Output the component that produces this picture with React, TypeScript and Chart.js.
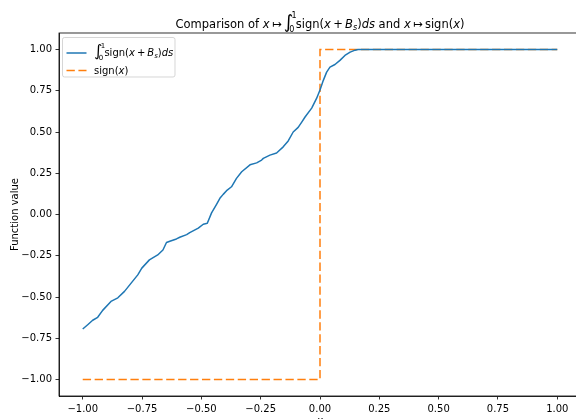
import React, { useEffect, useRef } from 'react';
import { Chart, registerables } from 'chart.js';

Chart.register(...registerables);

// ---- data ----
const curveX = [
  -1.0, -0.979, -0.958, -0.937, -0.916, -0.881, -0.852, -0.824, -0.796, -0.768,
  -0.751, -0.719, -0.684, -0.662, -0.647, -0.633, -0.605, -0.591, -0.562, -0.549,
  -0.513, -0.492, -0.475, -0.457, -0.436, -0.422, -0.408, -0.391, -0.373, -0.352,
  -0.33, -0.295, -0.267, -0.246, -0.239, -0.211, -0.183, -0.155, -0.134, -0.113,
  -0.092, -0.077, -0.063, -0.035, -0.014, 0.0, 0.014, 0.028, 0.042, 0.063,
  0.084, 0.105, 0.127, 0.148, 0.16, 1.0,
];
const curveY = [
  -0.694, -0.668, -0.641, -0.623, -0.581, -0.527, -0.505, -0.466, -0.416, -0.366,
  -0.325, -0.275, -0.245, -0.215, -0.17, -0.162, -0.148, -0.138, -0.122, -0.11,
  -0.083, -0.059, -0.053, 0.01, 0.062, 0.098, 0.122, 0.148, 0.168, 0.219,
  0.259, 0.301, 0.313, 0.33, 0.34, 0.36, 0.373, 0.41, 0.446, 0.5,
  0.528, 0.56, 0.591, 0.645, 0.705, 0.755, 0.813, 0.863, 0.893, 0.909,
  0.934, 0.964, 0.984, 0.996, 1.0, 1.0,
];
const signX = [-1, 0, 0, 1];
const signY = [-1, -1, 1, 1];

const seriesLabels = ['∫₀¹sign(x + Bₛ)ds', 'sign(x)'];
const titleText = 'Comparison of x ↦ ∫₀¹sign(x + Bₛ)ds and x ↦ sign(x)';
const yLabel = 'Function value';
const xLabel = 'x';
const tickStep = 0.25;
const axisMin = -1.1;
const axisMax = 1.1;

const BLUE = '#1f77b4';
const ORANGE = '#ff7f0e';
const FONT = '"DejaVu Sans", sans-serif';
const TS = '\u2009'; // thin space (math operator spacing)

type Seg = { t?: string; it?: boolean; sc?: number; dy?: number; sup?: string; sub?: string; adv?: number };

const integralSegs: Seg[] = [
  { t: '∫', sc: 1.6, adv: 0.72 },
  { sup: '1', sub: '0', adv: 0.32 },
  { t: 'sign(' },
  { t: 'x', it: true },
  { t: TS + '+' + TS },
  { t: 'B', it: true },
  { t: 's', it: true, sc: 0.7, dy: 0.2 },
  { t: ')' },
  { t: 'ds', it: true },
];

const titleSegs: Seg[] = [
  { t: 'Comparison of ' },
  { t: 'x', it: true },
  { t: TS + '↦' + TS },
  ...integralSegs,
  { t: ' and ' },
  { t: 'x', it: true },
  { t: TS + '↦' + TS + 'sign(' },
  { t: 'x', it: true },
  { t: ')' },
];

const legendSegs1: Seg[] = integralSegs;
const legendSegs2: Seg[] = [{ t: 'sign(' }, { t: 'x', it: true }, { t: ')' }];

function fnt(size: number, it: boolean) {
  return `${it ? 'italic ' : ''}${size}px ${FONT}`;
}
function segW(ctx: CanvasRenderingContext2D, s: Seg, base: number) {
  if (s.adv !== undefined) return s.adv * base;
  if (s.sup !== undefined) {
    ctx.font = fnt(base * 0.7, false);
    return Math.max(ctx.measureText(s.sup).width, ctx.measureText(s.sub || '').width);
  }
  ctx.font = fnt(base * (s.sc || 1), !!s.it);
  return ctx.measureText(s.t || '').width;
}
function drawSegs(ctx: CanvasRenderingContext2D, segs: Seg[], x: number, y: number, base: number, center: boolean) {
  const total = segs.reduce((a, s) => a + segW(ctx, s, base), 0);
  let cx = center ? x - total / 2 : x;
  ctx.textBaseline = 'alphabetic';
  ctx.textAlign = 'left';
  ctx.fillStyle = '#000';
  for (const s of segs) {
    const w = segW(ctx, s, base);
    if (s.sup !== undefined) {
      ctx.font = fnt(base * 0.7, false);
      ctx.fillText(s.sup, cx - base * 0.05, y - base * 0.8);
      ctx.fillText(s.sub || '', cx - base * 0.25, y + base * 0.38);
    } else {
      ctx.font = fnt(base * (s.sc || 1), !!s.it);
      ctx.fillText(s.t || '', cx, y + (s.dy || 0) * base);
    }
    cx += w;
  }
}

function fmtTick(v: number) {
  if (Math.abs(v) < 1e-9) return '0.00';
  return (v < 0 ? '\u2212' : '') + Math.abs(v).toFixed(2);
}

const decorPlugin = {
  id: 'decor',
  afterDatasetsDraw(chart: any) {
    const { ctx, chartArea } = chart;
    ctx.save();
    // spines
    ctx.strokeStyle = '#000';
    ctx.lineWidth = 0.8;
    ctx.strokeRect(chartArea.left, chartArea.top, chartArea.right - chartArea.left, chartArea.bottom - chartArea.top);
    // title
    drawSegs(ctx, titleSegs, (chartArea.left + chartArea.right) / 2, 27.5, 11.5, true);
    // legend
    const lx = 62.5, ly = 37.5, lw = 112.5, lh = 39.5, r = 2;
    ctx.beginPath();
    ctx.moveTo(lx + r, ly);
    ctx.arcTo(lx + lw, ly, lx + lw, ly + lh, r);
    ctx.arcTo(lx + lw, ly + lh, lx, ly + lh, r);
    ctx.arcTo(lx, ly + lh, lx, ly, r);
    ctx.arcTo(lx, ly, lx + lw, ly, r);
    ctx.closePath();
    ctx.fillStyle = 'rgba(255,255,255,0.8)';
    ctx.fill();
    ctx.strokeStyle = 'rgba(204,204,204,0.8)';
    ctx.lineWidth = 1;
    ctx.stroke();
    ctx.lineWidth = 1.5;
    ctx.strokeStyle = BLUE;
    ctx.beginPath();
    ctx.moveTo(66.5, 53);
    ctx.lineTo(86.5, 53);
    ctx.stroke();
    ctx.strokeStyle = ORANGE;
    ctx.setLineDash([8.325, 3.6]);
    ctx.beginPath();
    ctx.moveTo(66.5, 70.5);
    ctx.lineTo(86.5, 70.5);
    ctx.stroke();
    ctx.setLineDash([]);
    drawSegs(ctx, legendSegs1, 94, 56, 10, false);
    drawSegs(ctx, legendSegs2, 94, 74, 10, false);
    ctx.restore();
  },
};

export default function App() {
  const ref = useRef<HTMLCanvasElement | null>(null);
  useEffect(() => {
    if (!ref.current) return;
    const tickFont = { family: FONT, size: 10 };
    const chart = new Chart(ref.current, {
      type: 'line',
      data: {
        datasets: [
          {
            label: seriesLabels[0],
            data: curveX.map((x, i) => ({ x, y: curveY[i] })),
            borderColor: BLUE,
            borderWidth: 1.5,
            pointRadius: 0,
            tension: 0,
            borderJoinStyle: 'round',
            fill: false,
          },
          {
            label: seriesLabels[1],
            data: signX.map((x, i) => ({ x, y: signY[i] })),
            borderColor: ORANGE,
            borderWidth: 1.5,
            borderDash: [8.325, 3.6],
            pointRadius: 0,
            tension: 0,
            fill: false,
          },
        ],
      },
      options: {
        animation: false,
        responsive: false,
        maintainAspectRatio: false,
        layout: { padding: { top: 33, right: 9, left: 0, bottom: 0 } },
        plugins: {
          legend: { display: false },
          title: { display: false, text: titleText },
          tooltip: { enabled: false },
        },
        scales: {
          x: {
            type: 'linear',
            min: axisMin,
            max: axisMax,
            afterFit: (s: any) => { s.height = 36; },
            ticks: {
              stepSize: tickStep,
              includeBounds: false,
              autoSkip: false,
              maxRotation: 0,
              padding: 3.5,
              color: '#000',
              font: tickFont,
              callback: (v: any) => fmtTick(Number(v)),
            },
            grid: { drawOnChartArea: false, drawTicks: true, tickLength: 3.5, tickWidth: 0.8, tickColor: '#000' },
            border: { display: true, color: '#000', width: 0.8 },
            title: { display: true, text: xLabel, color: '#000', font: { family: FONT, size: 10, style: 'italic' }, padding: { top: 0, bottom: 5 } },
          },
          y: {
            type: 'linear',
            min: axisMin,
            max: axisMax,
            afterFit: (s: any) => { s.width = 59; },
            ticks: {
              stepSize: tickStep,
              includeBounds: false,
              autoSkip: false,
              padding: 3.5,
              color: '#000',
              font: tickFont,
              callback: (v: any) => fmtTick(Number(v)),
            },
            grid: { drawOnChartArea: false, drawTicks: true, tickLength: 3.5, tickWidth: 0.8, tickColor: '#000' },
            border: { display: true, color: '#000', width: 0.8 },
            title: { display: true, text: yLabel, color: '#000', font: { family: FONT, size: 10 }, padding: { top: 9, bottom: 0 } },
          },
        },
      },
      plugins: [decorPlugin],
    } as any);
    return () => chart.destroy();
  }, []);
  return (
    <div style={{ position: 'fixed', left: 0, top: 0, width: 576, height: 419, overflow: 'hidden', background: '#fff' }}>
      <canvas ref={ref} width={590} height={432} style={{ width: 590, height: 432, display: 'block' }} />
    </div>
  );
}
